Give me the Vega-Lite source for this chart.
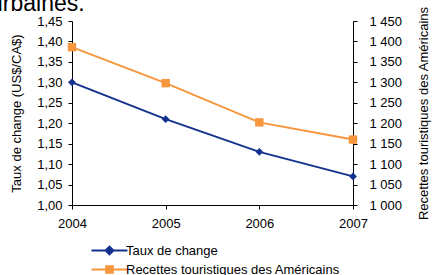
{
  "$schema": "https://vega.github.io/schema/vega-lite/v6.json",
  "autosize": {"type": "none"},
  "padding": {"left": 72, "top": 21, "right": 88, "bottom": 70},
  "width": 281,
  "height": 184,
  "background": "white",
  "title": {
    "text": "urbaines.",
    "anchor": "start",
    "frame": "group",
    "baseline": "alphabetic",
    "offset": -10,
    "dy": 18,
    "dx": -82,
    "font": "Liberation Sans",
    "fontSize": 23,
    "fontWeight": "normal",
    "color": "#000000"
  },
  "config": {
    "locale": {"number": {"decimal": ",", "thousands": " ", "grouping": [3], "currency": ["", " $"]}},
    "view": {"stroke": null},
    "font": "Liberation Sans",
    "axis": {
      "labelFont": "Liberation Sans",
      "titleFont": "Liberation Sans",
      "labelFontSize": 13,
      "titleFontSize": 13,
      "titleFontWeight": "normal",
      "labelColor": "#000000",
      "titleColor": "#000000",
      "domainColor": "#000000",
      "tickColor": "#000000",
      "grid": false,
      "tickSize": 4
    }
  },
  "data": {
    "values": [
      {"annee": 2004, "serie": "Taux de change", "valeur": 1.30},
      {"annee": 2005, "serie": "Taux de change", "valeur": 1.21},
      {"annee": 2006, "serie": "Taux de change", "valeur": 1.13},
      {"annee": 2007, "serie": "Taux de change", "valeur": 1.07},
      {"annee": 2004, "serie": "Recettes touristiques des Américains", "valeur": 1386},
      {"annee": 2005, "serie": "Recettes touristiques des Américains", "valeur": 1298},
      {"annee": 2006, "serie": "Recettes touristiques des Américains", "valeur": 1202},
      {"annee": 2007, "serie": "Recettes touristiques des Américains", "valeur": 1160}
    ]
  },
  "encoding": {
    "x": {
      "field": "annee",
      "type": "quantitative",
      "scale": {"domain": [2004, 2007], "nice": false, "zero": false},
      "axis": {"title": null, "values": [2004, 2005, 2006, 2007], "format": "d", "labelPadding": 8, "labelFlush": false}
    },
    "color": {
      "field": "serie",
      "type": "nominal",
      "scale": {
        "domain": ["Taux de change", "Recettes touristiques des Américains"],
        "range": ["#14318E", "#F7963C"]
      },
      "legend": {
        "title": null,
        "orient": "none",
        "legendX": 31,
        "legendY": 223,
        "direction": "vertical",
        "labelFont": "Liberation Sans",
        "labelFontSize": 13,
        "labelColor": "#000000",
        "labelLimit": 400,
        "symbolSize": 36,
        "symbolStrokeWidth": 2,
        "labelOffset": 10,
        "rowPadding": 3,
        "encode": {
          "symbols": {
            "update": {
              "shape": {"signal": "datum.value === 'Taux de change' ? 'M-6,0H6M-1.3,0L0,-1.3L1.3,0L0,1.3Z' : 'M-6,0H6M-1.1,-1.1H1.1V1.1H-1.1Z'"},
              "fill": {"scale": "color", "field": "value"},
              "stroke": {"scale": "color", "field": "value"},
              "fillOpacity": {"value": 1},
              "opacity": {"value": 1}
            }
          }
        }
      }
    }
  },
  "layer": [
    {
      "transform": [{"filter": "datum.serie === 'Taux de change'"}],
      "encoding": {
        "y": {
          "field": "valeur",
          "type": "quantitative",
          "scale": {"domain": [1.0, 1.45], "nice": false, "zero": false},
          "axis": {
            "orient": "left",
            "title": "Taux de change (US$/CA$)",
            "values": [1.0, 1.05, 1.1, 1.15, 1.2, 1.25, 1.3, 1.35, 1.4, 1.45],
            "format": ".2f",
            "labelPadding": 6,
            "titlePadding": 13
          }
        }
      },
      "layer": [
        {"mark": {"type": "line", "strokeWidth": 2}},
        {"mark": {"type": "point", "shape": "diamond", "filled": true, "size": 60, "opacity": 1}}
      ]
    },
    {
      "transform": [{"filter": "datum.serie !== 'Taux de change'"}],
      "encoding": {
        "y": {
          "field": "valeur",
          "type": "quantitative",
          "scale": {"domain": [1000, 1450], "nice": false, "zero": false},
          "axis": {
            "orient": "right",
            "title": "Recettes touristiques des Américains",
            "titleAngle": -90,
            "titleBaseline": "top",
            "values": [1000, 1050, 1100, 1150, 1200, 1250, 1300, 1350, 1400, 1450],
            "format": ",d",
            "labelPadding": 12,
            "titlePadding": 16
          }
        }
      },
      "layer": [
        {"mark": {"type": "line", "strokeWidth": 2}},
        {"mark": {"type": "point", "shape": "square", "filled": true, "size": 70, "opacity": 1}}
      ]
    }
  ],
  "resolve": {"scale": {"y": "independent"}}
}
